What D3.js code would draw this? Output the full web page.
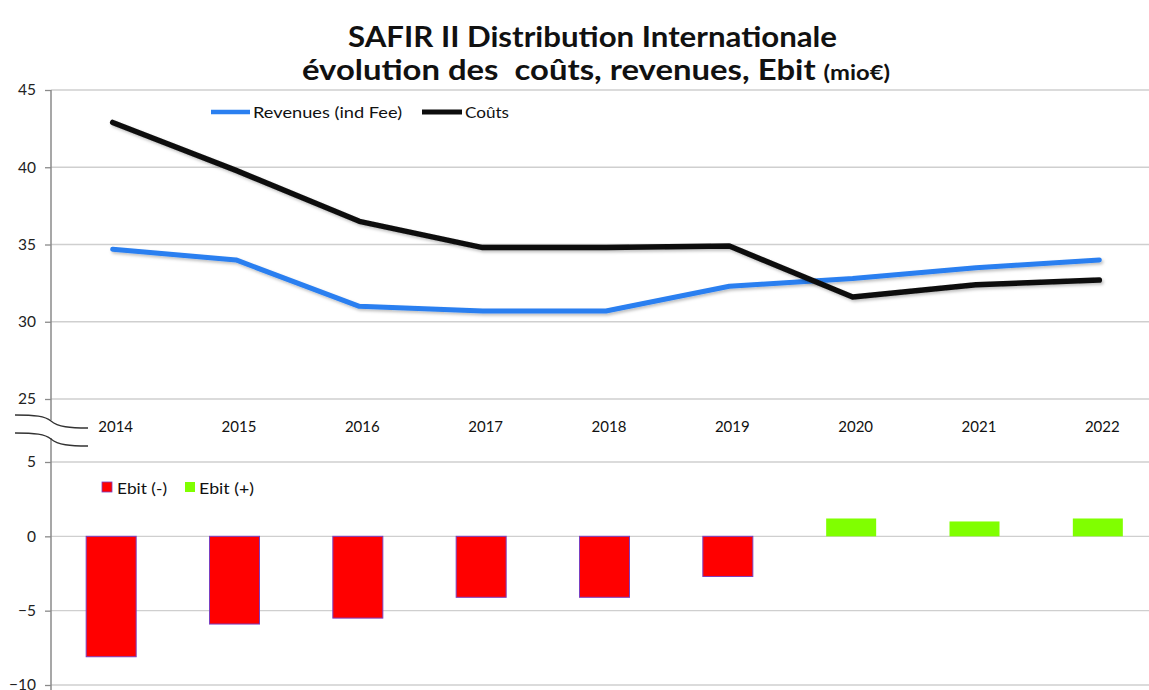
<!DOCTYPE html>
<html>
<head>
<meta charset="utf-8">
<script src="https://cdn.jsdelivr.net/npm/d3@7"></script>
<style>
  html, body { margin: 0; padding: 0; background: #fff; }
  svg { display: block; font-family: Lato, "Open Sans", sans-serif; }
</style>
</head>
<body>
<svg id="chart" width="1149" height="690"></svg>
<script>
// Years on the shared category axis
const years = ["2014", "2015", "2016", "2017", "2018", "2019", "2020", "2021", "2022"];
// Revenues including fees (mio€)
const revenues = [34.7, 34.0, 31.0, 30.7, 30.7, 32.3, 32.8, 33.5, 34.0];
// Costs (mio€)
const couts = [42.9, 39.8, 36.5, 34.8, 34.8, 34.9, 31.6, 32.4, 32.7];
// Ebit (mio€)
const ebit = [-8.1, -5.9, -5.5, -4.1, -4.1, -2.7, 1.2, 1.0, 1.2];
// Tick values for the two panels
const topTicks = [25, 30, 35, 40, 45];
const bottomTicks = [-10, -5, 0, 5];

const svg = d3.select("#chart");
const W = 1149;
const axisX = 51;

const x = d3.scaleBand().domain(years).range([axisX, 1161]);
const xc = d => x(d) + x.bandwidth() / 2;

const yTop = d3.scaleLinear().domain([25, 45]).range([399, 90]);
const yBot = d3.scaleLinear().domain([-10, 5]).range([685, 462]);

// Title
svg.append("text")
  .attr("x", 348).attr("y", 47)
  .attr("textLength", 489).attr("lengthAdjust", "spacingAndGlyphs")
  .attr("font-weight", "bold").attr("font-size", 29).attr("fill", "#111")
  .text("SAFIR II Distribution Internationale");
const t2 = svg.append("text")
  .attr("x", 302).attr("y", 80)
  .attr("textLength", 588).attr("lengthAdjust", "spacingAndGlyphs")
  .attr("xml:space", "preserve").style("white-space", "pre")
  .attr("font-weight", "bold").attr("font-size", 29).attr("fill", "#111");
t2.append("tspan").text("évolution des  coûts, revenues, Ebit ");
t2.append("tspan").attr("font-size", 21).text("(mio€)");

// Gridlines
function grid(scale, ticks) {
  svg.append("g").selectAll("line").data(ticks).join("line")
    .attr("x1", axisX).attr("x2", W)
    .attr("y1", d => scale(d)).attr("y2", d => scale(d))
    .attr("stroke", "#cfcfcf").attr("stroke-width", 1.3);
}
grid(yTop, topTicks);
grid(yBot, bottomTicks);

// Y axes
function yAxis(scale, ticks, y0, y1) {
  const g = svg.append("g").attr("transform", `translate(${axisX},0)`)
    .call(d3.axisLeft(scale).tickValues(ticks).tickSize(6).tickPadding(9).tickFormat(d3.format("d")));
  g.select(".domain").remove();
  g.append("line").attr("x1", 0).attr("x2", 0).attr("y1", y0).attr("y2", y1)
    .attr("stroke", "#8a8a8a").attr("stroke-width", 1.5);
  g.selectAll(".tick line").attr("stroke", "#8a8a8a").attr("stroke-width", 1.3);
  g.selectAll(".tick text").attr("font-size", 15.5).attr("fill", "#222")
    .attr("font-family", "Lato, sans-serif");
}
yAxis(yTop, topTicks, 90, 420);
yAxis(yBot, bottomTicks, 438, 690);

// Axis break marks
const brk = svg.append("g").attr("fill", "none").attr("stroke", "#333").attr("stroke-width", 1.3);
[0, 18].forEach(dy => {
  brk.append("path")
    .attr("d", `M15,${415 + dy} C35,${415 + dy} 45,${416 + dy} 51,${421 + dy} C58,${427 + dy} 70,${428 + dy} 88,${428 + dy}`);
});

// Category labels between the panels
svg.append("g").selectAll("text").data(years).join("text")
  .attr("x", d => xc(d) + 3).attr("y", 432)
  .attr("text-anchor", "middle").attr("font-size", 15).attr("fill", "#111")
  .text(d => d);

// Soft shadow for the lines
const defs = svg.append("defs");
const f = defs.append("filter").attr("id", "shadow").attr("x", "-5%").attr("y", "-20%").attr("width", "110%").attr("height", "140%");
f.append("feDropShadow").attr("dx", 1.5).attr("dy", 2).attr("stdDeviation", 1.5)
  .attr("flood-color", "#000").attr("flood-opacity", 0.25);

const line = d3.line().x((d, i) => xc(years[i])).y(d => yTop(d));
svg.append("path").datum(revenues).attr("d", line)
  .attr("fill", "none").attr("stroke", "#2a7ff0").attr("stroke-width", 5)
  .attr("stroke-linejoin", "round").attr("stroke-linecap", "round").attr("filter", "url(#shadow)");
svg.append("path").datum(couts).attr("d", line)
  .attr("fill", "none").attr("stroke", "#0d0d0d").attr("stroke-width", 5.5)
  .attr("stroke-linejoin", "round").attr("stroke-linecap", "round").attr("filter", "url(#shadow)");

// Ebit bars
const barW = 50;
svg.append("g").selectAll("rect").data(ebit).join("rect")
  .attr("x", (d, i) => xc(years[i]) - 1.5 - barW / 2)
  .attr("width", barW)
  .attr("y", d => Math.min(yBot(d), yBot(0)))
  .attr("height", d => Math.abs(yBot(d) - yBot(0)))
  .attr("fill", d => d < 0 ? "#ff0000" : "#80ff00")
  .attr("stroke", d => d < 0 ? "#7a3fc0" : "none")
  .attr("stroke-width", 1);

// Line legend
const lg = svg.append("g").attr("font-size", 16).attr("fill", "#111");
lg.append("line").attr("x1", 211).attr("x2", 250).attr("y1", 112).attr("y2", 112)
  .attr("stroke", "#2a7ff0").attr("stroke-width", 4.5);
lg.append("text").attr("x", 253).attr("y", 117.5)
  .attr("textLength", 149).attr("lengthAdjust", "spacingAndGlyphs").text("Revenues (ind Fee)");
lg.append("line").attr("x1", 422).attr("x2", 462).attr("y1", 112).attr("y2", 112)
  .attr("stroke", "#0d0d0d").attr("stroke-width", 5);
lg.append("text").attr("x", 465).attr("y", 117.5)
  .attr("textLength", 44).attr("lengthAdjust", "spacingAndGlyphs").text("Coûts");

// Bar legend
const bl = svg.append("g").attr("font-size", 16).attr("fill", "#111");
bl.append("rect").attr("x", 102).attr("y", 482).attr("width", 10).attr("height", 10)
  .attr("fill", "#ff0000").attr("stroke", "#7a3fc0").attr("stroke-width", 0.8);
bl.append("text").attr("x", 117).attr("y", 494)
  .attr("textLength", 50).attr("lengthAdjust", "spacingAndGlyphs").text("Ebit (-)");
bl.append("rect").attr("x", 185).attr("y", 482).attr("width", 10).attr("height", 10)
  .attr("fill", "#80ff00");
bl.append("text").attr("x", 199).attr("y", 494)
  .attr("textLength", 55).attr("lengthAdjust", "spacingAndGlyphs").text("Ebit (+)");
</script>
</body>
</html>
